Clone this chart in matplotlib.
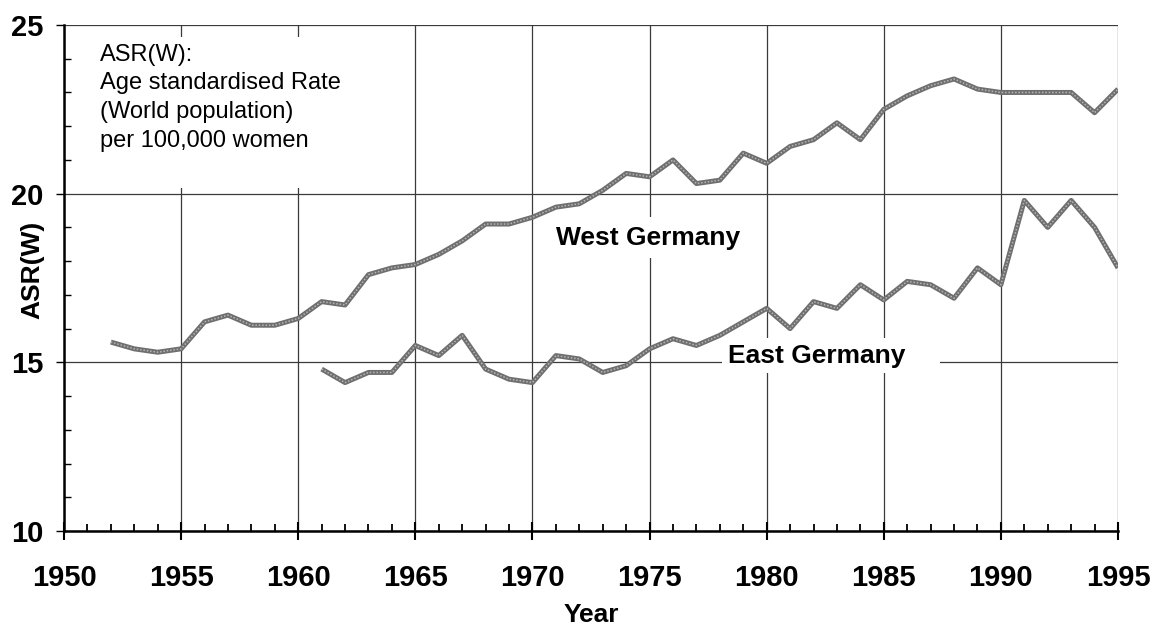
import numpy as np
import matplotlib
matplotlib.use('Agg')
import matplotlib.pyplot as plt
from matplotlib.ticker import MultipleLocator

# data
west_years = list(range(1952, 1996))
west_asr = [15.6, 15.4, 15.3, 15.4, 16.2, 16.4, 16.1, 16.1, 16.3, 16.8,
            16.7, 17.6, 17.8, 17.9, 18.2, 18.6, 19.1, 19.1, 19.3, 19.6,
            19.7, 20.1, 20.6, 20.5, 21.0, 20.3, 20.4, 21.2, 20.9, 21.4,
            21.6, 22.1, 21.6, 22.5, 22.9, 23.2, 23.4, 23.1, 23.0, 23.0,
            23.0, 23.0, 22.4, 23.1]

east_years = list(range(1961, 1996))
east_asr = [14.8, 14.4, 14.7, 14.7, 15.5, 15.2, 15.8, 14.8, 14.5, 14.4,
            15.2, 15.1, 14.7, 14.9, 15.4, 15.7, 15.5, 15.8, 16.2, 16.6,
            16.0, 16.8, 16.6, 17.3, 16.85, 17.4, 17.3, 16.9, 17.8, 17.3,
            19.8, 19.0, 19.8, 19.0, 17.8]

bold_font = ['Liberation Sans', 'DejaVu Sans']

fig = plt.figure(figsize=(11.51, 6.28), dpi=100)
ax = fig.add_axes([64/1151, 1-531/628, (1118-64)/1151, (531-25)/628])

ax.set_xlim(1950, 1995)
ax.set_ylim(10, 25)

# gridlines
ax.xaxis.set_major_locator(MultipleLocator(5))
ax.xaxis.set_minor_locator(MultipleLocator(1))
ax.yaxis.set_major_locator(MultipleLocator(5))
ax.yaxis.set_minor_locator(MultipleLocator(1))
ax.grid(True, which='major', color='#3a3a3a', linewidth=0.9, zorder=0)

ax.spines['top'].set_visible(False)
ax.spines['right'].set_visible(False)
ax.spines['left'].set_linewidth(1.8)
ax.spines['bottom'].set_linewidth(1.8)

ax.tick_params(axis='x', which='major', direction='inout', length=13, width=1.5, pad=17)
ax.tick_params(axis='x', which='minor', direction='in', length=5, width=1.3)
ax.tick_params(axis='y', which='major', direction='out', length=6, width=1.0, pad=9)
ax.tick_params(axis='y', which='minor', direction='in', length=5, width=1.0)

for lab in ax.get_xticklabels() + ax.get_yticklabels():
    lab.set_family(bold_font)
    lab.set_fontweight('bold')
    lab.set_fontsize(21)

# textured grey lines
for xs, ys in [(west_years, west_asr), (east_years, east_asr)]:
    ax.plot(xs, ys, color='#6f6f6f', linewidth=3.6, solid_capstyle='butt', zorder=3)
    ax.plot(xs, ys, color='#b5b5b5', linewidth=1.1, linestyle=(0, (1, 1.2)), zorder=4)

ax.set_xlabel('Year', family=bold_font, fontweight='bold', fontsize=19)
ax.xaxis.set_label_coords(0.5, -0.142)
ax.set_ylabel('ASR(W)', family=bold_font, fontweight='bold', fontsize=19)
ax.yaxis.set_label_coords(-0.019, 0.516)

ax.text(1951.55, 24.45, 'ASR(W):\nAge standardised Rate\n(World population)\nper 100,000 women\n',
        fontsize=17, family=['Liberation Sans', 'DejaVu Sans'], va='top', ha='left',
        linespacing=1.4,
        bbox=dict(facecolor='white', edgecolor='none', pad=5), zorder=5)

ax.text(1974.95, 18.7, 'West Germany', fontsize=19, fontweight='bold', family=bold_font,
        ha='center', va='center',
        bbox=dict(facecolor='white', edgecolor='none', pad=6), zorder=5)

ax.text(1978.35, 15.2, 'East Germany    ', fontsize=19, fontweight='bold', family=bold_font,
        ha='left', va='center',
        bbox=dict(facecolor='white', edgecolor='none', pad=4), zorder=5)

fig.savefig('out.png', dpi=100, facecolor='white')
